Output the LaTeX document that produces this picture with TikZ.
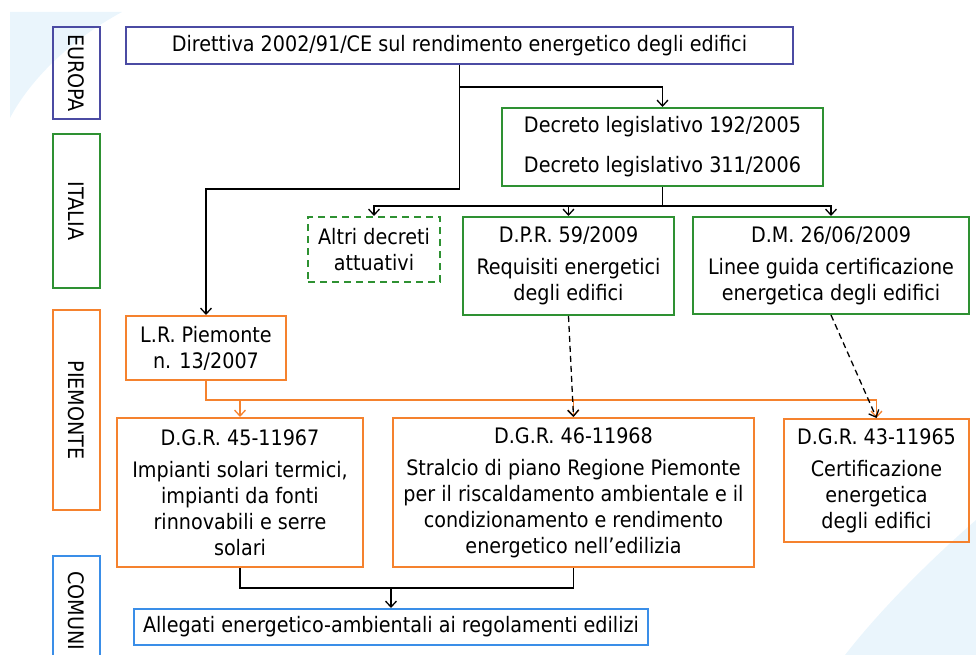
\documentclass[tikz,border=0pt]{standalone}
\usepackage{fontspec}
\setmainfont{DejaVu Sans Condensed}
\usepackage{tikz}
\usetikzlibrary{arrows.meta}

\definecolor{euroblue}{HTML}{4B4BA3}
\definecolor{itagreen}{HTML}{2E9132}
\definecolor{pieorange}{HTML}{F5822E}
\definecolor{comblue}{HTML}{3A8EE8}
\definecolor{paleblue}{HTML}{EAF5FC}

\tikzset{
	box/.style={draw, line width=2pt, inner sep=0pt, align=center,
		font=\fontsize{21.3}{26}\selectfont},
	levelbox/.style={box, minimum height=47pt, rotate=-90},
	link/.style={line width=1.3pt, -{Straight Barb[length=6pt,width=11pt]}},
}

\begin{document}
\begin{tikzpicture}[x=1pt, y=-1pt]
	\useasboundingbox (0,0) rectangle (976,655);
	% pale background
	\fill[paleblue] (10,12) -- (122,12) .. controls (70,40) and (30,80) .. (10,118) -- cycle;
	\fill[paleblue] (976,520) .. controls (930,560) and (880,610) .. (845,655) -- (976,655) -- cycle;

	% levels
	\node[levelbox, draw=euroblue, minimum width=92pt] (europa) at (76.5,73) {EUROPA};
	\node[levelbox, draw=itagreen, minimum width=154pt] (italia) at (76.5,211) {ITALIA};
	\node[levelbox, draw=pieorange, minimum width=200pt] (piemonte) at (76.5,410) {PIEMONTE};
	\node[levelbox, draw=comblue, minimum width=110pt] (comuni) at (76.5,611) {COMUNI};

	% europe
	\node[box, draw=euroblue, minimum width=667pt, minimum height=37pt] (dir) at (459.5,45.5)
		{Direttiva 2002/91/CE sul rendimento energetico degli edifici};

	% italy
	\node[box, draw=itagreen, minimum width=321pt, minimum height=78pt] (dlgs) at (662.5,147)
		{Decreto legislativo 192/2005\\[14pt]Decreto legislativo 311/2006};
	\node[box, draw=itagreen, dashed, dash pattern=on 7pt off 5pt, minimum width=132pt, minimum height=65pt] (altri) at (374,249.5)
		{Altri decreti\\attuativi};
	\node[box, draw=itagreen, minimum width=211pt, minimum height=98pt] (dpr) at (568.5,266)
		{D.P.R. 59/2009\\[6pt]Requisiti energetici\\degli edifici};
	\node[box, draw=itagreen, minimum width=276pt, minimum height=97pt] (dm) at (831,265.5)
		{D.M. 26/06/2009\\[6pt]Linee guida certificazione\\energetica degli edifici};

	% piemonte
	\node[box, draw=pieorange, minimum width=160pt, minimum height=64pt] (lr) at (206,348)
		{L.R. Piemonte\\n. 13/2007};
	\node[box, draw=pieorange, minimum width=246pt, minimum height=149pt] (dgr45) at (240,492.5)
		{D.G.R. 45-11967\\[6pt]Impianti solari termici,\\impianti da fonti\\rinnovabili e serre\\solari};
	\node[box, draw=pieorange, minimum width=361pt, minimum height=149pt] (dgr46) at (573.5,492.5)
		{D.G.R. 46-11968\\[6pt]Stralcio di piano Regione Piemonte\\per il riscaldamento ambientale e il\\condizionamento e rendimento\\energetico nell’edilizia};
	\node[box, draw=pieorange, minimum width=185pt, minimum height=123pt, anchor=north] (dgr43) at (876.5,418)
		{D.G.R. 43-11965\\[6pt]Certificazione\\energetica\\degli edifici};

	% comuni
	\node[box, draw=comblue, minimum width=514pt, minimum height=36pt] (allegati) at (391,627)
		{Allegati energetico-ambientali ai regolamenti edilizi};

	% connections
	\draw[link] (dir.south) -- ++(0,22) -| (dlgs.north);
	\draw[link] (dir.south) -- ++(0,124) -| (lr.north);
	\draw[link] (dlgs.south) -- ++(0,19) -| (altri.north);
	\draw[link] (dlgs.south) -- ++(0,19) -| (dpr.north);
	\draw[link] (dlgs.south) -- ++(0,19) -| (dm.north);
	\draw[link, draw=pieorange] (lr.south) -- ++(0,19) -| (dgr45.north);
	\draw[link, draw=pieorange] (lr.south) -- ++(0,19) -| (dgr46.north);
	\draw[link, draw=pieorange] (lr.south) -- ++(0,19) -| (dgr43.north);
	\draw[link, dashed, dash pattern=on 6pt off 4pt] (dpr.south) -- (dgr46.north);
	\draw[link, dashed, dash pattern=on 6pt off 4pt] (dm.south) -- (dgr43.north);
	\coordinate (join) at (allegati.north |- 0,588);
	\draw[line width=1.3pt] (dgr45.south) |- (join) -| (dgr46.south);
	\draw[link] (join) -- (allegati.north);
\end{tikzpicture}
\end{document}
